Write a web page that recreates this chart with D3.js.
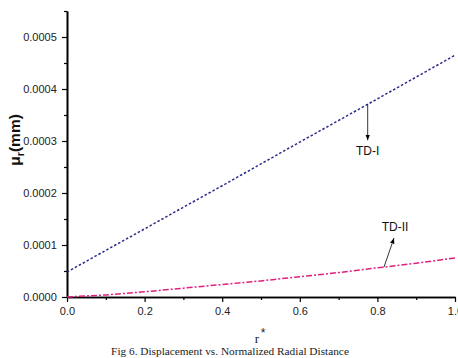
<!DOCTYPE html>
<html><head><meta charset="utf-8">
<script src="https://cdn.jsdelivr.net/npm/d3@7"></script>
<style>body{margin:0;background:#fff}svg{display:block}</style>
</head><body>
<script>
const rValues = [0, 0.1, 0.2, 0.3, 0.4, 0.5, 0.6, 0.7, 0.8, 0.9, 1.0];
const tdI = [0.000048, 0.0000897, 0.000131, 0.0001727, 0.000214, 0.000256, 0.000298, 0.0003395, 0.000381, 0.000423, 0.000465];
const tdII = [0, 0.000004, 0.00001, 0.000017, 0.000024, 0.000031, 0.000039, 0.000047, 0.000056, 0.000065, 0.000075];
const xTicks = [0, 0.2, 0.4, 0.6, 0.8, 1.0];
const yTicks = [0, 0.0001, 0.0002, 0.0003, 0.0004, 0.0005];
const seriesNames = ["TD-I", "TD-II"];

const W = 458, H = 358;
const svg = d3.select("body").append("svg").attr("width", W).attr("height", H);
const x = d3.scaleLinear().domain([0, 1]).range([67, 455]);
const y = d3.scaleLinear().domain([0, 0.00055]).range([297, 11]);

const xAxis = d3.axisBottom(x).tickValues(xTicks).tickFormat(d3.format(".1f")).tickSize(5).tickSizeOuter(0);
const xMinor = d3.axisBottom(x).tickValues(d3.range(0.1, 1, 0.2)).tickFormat("").tickSize(3).tickSizeOuter(0);
const yAxis = d3.axisLeft(y).tickValues(yTicks).tickFormat(d3.format(".4f")).tickSize(5).tickSizeOuter(0);
const yMinor = d3.axisLeft(y).tickValues([0.00005,0.00015,0.00025,0.00035,0.00045,0.00055]).tickFormat("").tickSize(3).tickSizeOuter(0);

function style(g){
  g.selectAll("path").attr("stroke","#000").attr("stroke-width",1.6);
  g.selectAll("line").attr("stroke","#000").attr("stroke-width",1.2);
  g.selectAll("text").attr("font-family","Arial, 'Liberation Sans', sans-serif").attr("font-size",11).attr("fill","#222");
}
svg.append("g").attr("transform","translate(0,297)").call(xMinor).call(style);
svg.append("g").attr("transform","translate(0,297)").call(xAxis).call(style).selectAll("text").attr("dy","0.9em");
svg.append("g").attr("transform","translate(67,0)").call(yMinor).call(style);
svg.append("g").attr("transform","translate(67,0)").call(yAxis).call(style).selectAll("text").attr("dx","-0.2em");

const line = d3.line().x((d,i)=>x(rValues[i])).y(d=>y(d));
svg.append("path").datum(tdI).attr("d", line).attr("fill","none")
  .attr("stroke","#2a2a8c").attr("stroke-width",1.5).attr("stroke-dasharray","2.5,2");
svg.append("path").datum(tdII).attr("d", line).attr("fill","none")
  .attr("stroke","#e0207f").attr("stroke-width",1.5).attr("stroke-dasharray","6,2,2,2");

const defs = svg.append("defs");
defs.append("marker").attr("id","arr").attr("viewBox","0 0 10 10").attr("refX",10).attr("refY",5)
  .attr("markerWidth",7).attr("markerHeight",7).attr("orient","auto")
  .append("path").attr("d","M0,1 L10,5 L0,9 Z").attr("fill","#000");

const a1x = 0.775, a2x = 0.817;
const tdIat = d3.interpolateNumber(tdI[7], tdI[8])((a1x-0.7)/0.1);
const tdIIat = d3.interpolateNumber(tdII[8], tdII[9])((a2x-0.8)/0.1);
svg.append("line").attr("x1",x(a1x)).attr("y1",y(tdIat)).attr("x2",x(a1x)).attr("y2",y(tdIat)+36)
  .attr("stroke","#000").attr("stroke-width",0.8).attr("marker-end","url(#arr)");
svg.append("text").attr("x",x(a1x)).attr("y",y(tdIat)+51).attr("text-anchor","middle")
  .attr("font-family","Arial, 'Liberation Sans', sans-serif").attr("font-size",12).attr("fill","#111").text(seriesNames[0]);
svg.append("line").attr("x1",x(a2x)).attr("y1",y(tdIIat)).attr("x2",x(a2x)+10).attr("y2",y(tdIIat)-29)
  .attr("stroke","#000").attr("stroke-width",0.8).attr("marker-end","url(#arr)");
svg.append("text").attr("x",x(a2x)+11).attr("y",y(tdIIat)-36).attr("text-anchor","middle")
  .attr("font-family","Arial, 'Liberation Sans', sans-serif").attr("font-size",12).attr("fill","#111").text(seriesNames[1]);

const yl = svg.append("text").attr("transform","translate(20,140) rotate(-90)").attr("text-anchor","middle")
  .attr("font-family","Arial, 'Liberation Sans', sans-serif").attr("font-weight","bold").attr("font-size",15.5).attr("fill","#111");
yl.append("tspan").text("μ");
yl.append("tspan").attr("font-size",11).attr("dy",4).text("r");
yl.append("tspan").attr("dy",-4).text("(mm)");

svg.append("text").attr("x",257).attr("y",343).attr("text-anchor","middle")
  .attr("font-family","'Liberation Serif', 'Times New Roman', serif").attr("font-size",13).attr("fill","#222").text("r");
svg.append("text").attr("x",263).attr("y",337).attr("text-anchor","middle")
  .attr("font-family","Arial, 'Liberation Sans', sans-serif").attr("font-size",12).attr("fill","#222").text("*");

svg.append("text").attr("x",230).attr("y",355).attr("text-anchor","middle")
  .attr("font-family","'Liberation Serif', 'Times New Roman', serif").attr("font-size",11.3).attr("fill","#222")
  .text("Fig 6. Displacement vs. Normalized Radial Distance");
</script>
</body></html>
